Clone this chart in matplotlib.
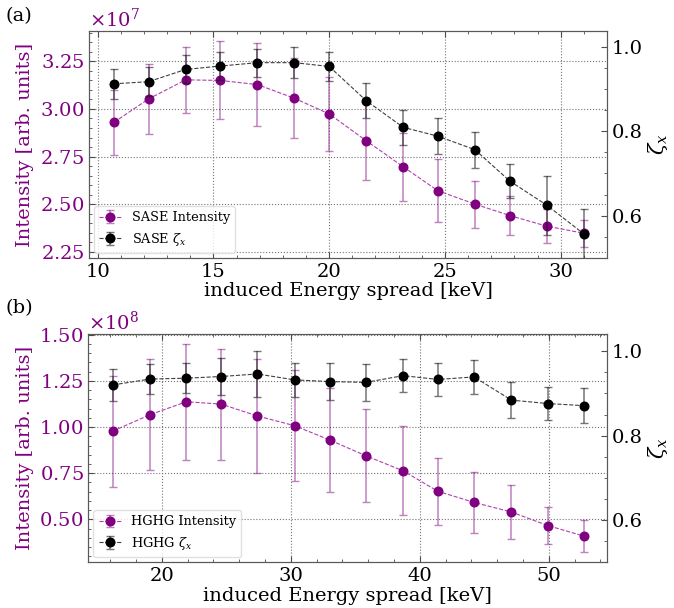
import numpy as np
import matplotlib
matplotlib.use('Agg')
import matplotlib.pyplot as plt
from matplotlib.ticker import AutoMinorLocator, ScalarFormatter, MultipleLocator

plt.rcParams['font.family'] = ['DejaVu Serif']
plt.rcParams['mathtext.fontset'] = 'dejavuserif'

# panel (a): SASE
xa = [10.7, 12.2, 13.8, 15.3, 16.9, 18.5, 20.0, 21.6, 23.2, 24.7, 26.3, 27.8, 29.4, 31.0]
int_a = [2.93, 3.053, 3.153, 3.15, 3.128, 3.056, 2.974, 2.833, 2.696, 2.57, 2.50, 2.44, 2.384, 2.347]
int_a_err = [0.17, 0.185, 0.175, 0.205, 0.217, 0.21, 0.195, 0.205, 0.18, 0.165, 0.123, 0.104, 0.09, 0.072]
zeta_a = [0.912, 0.917, 0.946, 0.954, 0.962, 0.962, 0.953, 0.872, 0.809, 0.788, 0.756, 0.682, 0.625, 0.557]
zeta_a_err = [0.036, 0.034, 0.033, 0.034, 0.033, 0.036, 0.035, 0.042, 0.042, 0.042, 0.043, 0.04, 0.07, 0.06]

# panel (b): HGHG
xb = [16.2, 19.1, 21.9, 24.6, 27.4, 30.3, 33.0, 35.8, 38.7, 41.4, 44.2, 47.1, 49.9, 52.7]
int_b = [0.978, 1.067, 1.137, 1.124, 1.06, 1.007, 0.93, 0.845, 0.763, 0.652, 0.592, 0.54, 0.467, 0.41]
int_b_err = [0.30, 0.30, 0.315, 0.30, 0.31, 0.30, 0.28, 0.25, 0.24, 0.18, 0.165, 0.145, 0.10, 0.085]
zeta_b = [0.92, 0.934, 0.936, 0.94, 0.946, 0.932, 0.928, 0.926, 0.942, 0.933, 0.939, 0.884, 0.876, 0.871]
zeta_b_err = [0.038, 0.036, 0.036, 0.044, 0.054, 0.041, 0.043, 0.044, 0.039, 0.04, 0.04, 0.042, 0.04, 0.041]

PURPLE = '#800080'


def style_axis(ax):
    ax.tick_params(which='both', direction='in', labelsize=14, colors='0.3')
    ax.tick_params(which='major', length=4)
    ax.tick_params(which='minor', length=2)
    for s in ax.spines.values():
        s.set_color('0.35')


def panel(ax, x, inten, inten_err, scale, zeta, zeta_err, name, ylim_l, ylim_r, xstep):
    ax2 = ax.twinx()
    h1 = ax.errorbar(x, np.array(inten) * scale, yerr=np.array(inten_err) * scale,
                     fmt='o', ls='--', lw=0.8, color=PURPLE, ms=6.2,
                     ecolor=(0.55, 0.1, 0.55, 0.55), elinewidth=1.1, capsize=3,
                     label=f'{name} Intensity')
    h1[0].set_color('#b040b0')
    h1[0].set_markerfacecolor(PURPLE)
    h1[0].set_markeredgecolor(PURPLE)
    h2 = ax2.errorbar(x, zeta, yerr=zeta_err, fmt='o', ls='--', lw=0.8,
                      color='black', ms=6.2, ecolor=(0.1, 0.1, 0.1, 0.6),
                      elinewidth=1.1, capsize=3, label=f'{name} $\\zeta_x$')
    h2[0].set_color('0.25')
    h2[0].set_markerfacecolor('black')
    h2[0].set_markeredgecolor('black')

    ax.set_ylim(*ylim_l)
    ax2.set_ylim(*ylim_r)
    ax.grid(True, which='major', ls=':', color='0.45', lw=0.8)

    fmt = ScalarFormatter(useMathText=True)
    fmt.set_powerlimits((0, 0))
    ax.yaxis.set_major_formatter(fmt)
    ax.yaxis.get_offset_text().set_fontsize(14)
    ax.yaxis.get_offset_text().set_color(PURPLE)

    style_axis(ax)
    style_axis(ax2)
    ax.tick_params(which='both', top=True, right=False)
    ax.tick_params(axis='x', labelcolor='black')
    ax.tick_params(axis='y', labelcolor=PURPLE)
    ax2.tick_params(axis='y', labelcolor='black')
    ax2.set_yticks([0.6, 0.8, 1.0])
    ax.xaxis.set_major_locator(MultipleLocator(xstep))
    ax.xaxis.set_minor_locator(AutoMinorLocator())
    ax.yaxis.set_minor_locator(AutoMinorLocator())
    ax2.yaxis.set_minor_locator(AutoMinorLocator())

    ax.set_xlabel('induced Energy spread [keV]', fontsize=14, labelpad=1)
    ax.set_ylabel('Intensity [arb. units]', fontsize=14, color=PURPLE, labelpad=4)
    ax2.set_ylabel('$\\zeta_x$', fontsize=15, labelpad=2)

    ax2.legend([h1, h2], [h1.get_label(), h2.get_label()], loc='lower left',
               fontsize=9.3, frameon=True, framealpha=0.8, edgecolor='0.85',
               borderaxespad=0.4, handlelength=1.7)
    return ax2


fig = plt.figure(figsize=(6.74, 6.08), dpi=100)
ax_a = fig.add_axes([0.132, 0.5757, 0.7685, 0.3734])
ax_b = fig.add_axes([0.131, 0.0752, 0.7695, 0.375])

panel(ax_a, xa, int_a, int_a_err, 1e7, zeta_a, zeta_a_err, 'SASE',
      (2.217e7, 3.41e7), (0.50, 1.037), 5)
ax_a.set_xlim(9.62, 32.0)
panel(ax_b, xb, int_b, int_b_err, 1e8, zeta_b, zeta_b_err, 'HGHG',
      (0.268e8, 1.502e8), (0.50, 1.04), 10)
ax_b.set_xlim(14.3, 54.5)
ax_b.set_yticks([0.5e8, 0.75e8, 1.0e8, 1.25e8, 1.5e8])

fig.text(0.008, 0.974, '(a)', fontsize=14, va='center')
fig.text(0.008, 0.493, '(b)', fontsize=14, va='center')

fig.savefig('out.png', dpi=100)
